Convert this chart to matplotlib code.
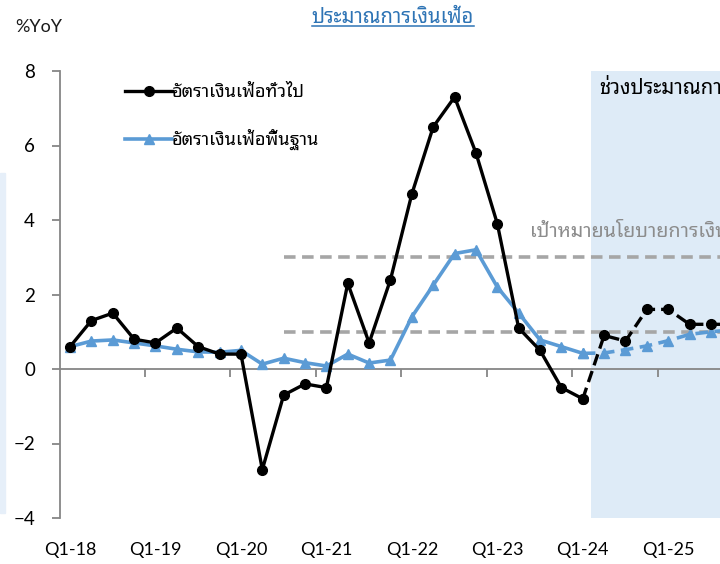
import matplotlib
matplotlib.use("Agg")
import matplotlib.pyplot as plt
from matplotlib.lines import Line2D
from matplotlib.patches import Rectangle
import numpy as np

# quarterly data Q1-18 ... Q4-25
quarters = [f"Q{q}-{y}" for y in range(18, 26) for q in range(1, 5)]
headline = [0.6, 1.3, 1.5, 0.8, 0.7, 1.1, 0.6, 0.4,
            0.4, -2.7, -0.7, -0.4, -0.5, 2.3, 0.7, 2.4,
            4.7, 6.5, 7.3, 5.8, 3.9, 1.1, 0.5, -0.5,
            -0.8, 0.9, 0.75, 1.6, 1.6, 1.2, 1.2, 1.2]
core = [0.6, 0.75, 0.78, 0.7, 0.62, 0.53, 0.46, 0.45,
        0.5, 0.13, 0.29, 0.17, 0.08, 0.4, 0.16, 0.24,
        1.4, 2.25, 3.1, 3.2, 2.2, 1.5, 0.78, 0.6,
        0.42, 0.43, 0.52, 0.62, 0.76, 0.93, 1.0, 1.05]
last_actual = 24          # Q1-24, forecast starts after it
target_band = [1, 3]
target_from = 10          # Q3-20
x_labels = quarters[::4]

THAI = ["Noto Sans Thai Looped", "DejaVu Sans"]
LATIN = "Lato"
BLACK = "#000000"
BLUE = "#5b9bd5"
GREY = "#a6a6a6"

x = np.arange(len(quarters))
fig = plt.figure(figsize=(7.2, 5.64), dpi=100)
ax = fig.add_axes([60 / 720, 46 / 564, 683 / 720, 447 / 564])

# forecast shading
ax.axvspan(last_actual + 0.4, len(quarters) + 2, color="#deebf7", zorder=0, lw=0)
# left neighbour panel strip
fig.patches.append(Rectangle((0, 51 / 564), 5 / 720, 340 / 564, transform=fig.transFigure,
                             color="#e6eff9", zorder=0))

# target band
ax.hlines(target_band, target_from, len(quarters) + 2, colors=GREY, lw=2.6,
          linestyles=(0, (3.2, 1.8)), zorder=1)

k = last_actual + 1
ax.plot(x[:k], core[:k], color=BLUE, lw=2.6, marker="^", ms=6.5, zorder=3)
ax.plot(x[last_actual:], core[last_actual:], color=BLUE, lw=2.6, marker="^", ms=6.5,
        ls=(0, (3.5, 1.8)), zorder=3)
ax.plot(x[:k], headline[:k], color=BLACK, lw=2.4, marker="o", ms=7, zorder=4)
ax.plot(x[last_actual:], headline[last_actual:], color=BLACK, lw=2.4, marker="o", ms=7,
        ls=(0, (3.5, 1.8)), zorder=4)

ax.set_xlim(-0.47, 31.5)
ax.set_ylim(-4, 8)

for s in ["top", "right"]:
    ax.spines[s].set_visible(False)
ax.spines["left"].set_color("#868686")
ax.spines["left"].set_linewidth(1.3)
ax.spines["bottom"].set_position(("data", 0))
ax.spines["bottom"].set_color("#868686")
ax.spines["bottom"].set_linewidth(1.3)

ax.set_yticks(range(-4, 9, 2))
ax.tick_params(axis="y", direction="out", length=6, width=1.3, color="#868686",
               labelsize=13.5, pad=12)
for t in ax.get_yticklabels():
    t.set_fontfamily(LATIN)

# year-boundary ticks on the zero line
ax.set_xticks(np.arange(3.5, len(quarters), 4))
ax.tick_params(axis="x", direction="out", length=6, width=1.3, color="#868686",
               labelbottom=False)

sec = ax.secondary_xaxis("bottom")
sec.spines["bottom"].set_visible(False)
sec.set_xticks(x[::4], x_labels)
sec.tick_params(length=0, labelsize=13, pad=17)
for t in sec.get_xticklabels():
    t.set_fontfamily(LATIN)

handles = [Line2D([], [], color=BLACK, lw=2.4, marker="o", ms=7),
           Line2D([], [], color=BLUE, lw=2.6, marker="^", ms=6.5)]
fig.legend(handles, ["อัตราเงินเฟ้อทั่วไป", "อัตราเงินเฟ้อพื้นฐาน"],
           loc="upper left", bbox_to_anchor=(118 / 720, 1 - 76 / 564), frameon=False,
           prop={"family": THAI, "size": 13}, handlelength=2.6, handletextpad=0.0,
           labelspacing=1.55, borderaxespad=0)

ax.text(21.55, 3.67, "เป้าหมายนโยบายการเงิน", color="#8c8c8c", fontsize=14.2,
        family=THAI, va="center", ha="left", clip_on=False)
ax.text(24.75, 7.53, "ช่วงประมาณการ", color=BLACK, fontsize=14.6, fontweight="bold",
        family=THAI, va="center", ha="left", clip_on=False)

fig.text(15 / 720, 1 - 27 / 564, "%YoY", fontsize=13, family=LATIN, va="center",
         ha="left", color="#1a1a1a")
title = fig.text(393 / 720, 1 - 18 / 564, "ประมาณการเงินเฟ้อ", fontsize=14.5,
                 family=THAI, color="#2e74b5", va="center", ha="center")

# underline the title
fig.canvas.draw()
bb = title.get_window_extent()
uy = bb.y0 + 2
fig.add_artist(Line2D([bb.x0 / 720, bb.x1 / 720], [uy / 564, uy / 564],
                      transform=fig.transFigure, color="#2e74b5", lw=1.1))

fig.savefig("out.png", dpi=100)
